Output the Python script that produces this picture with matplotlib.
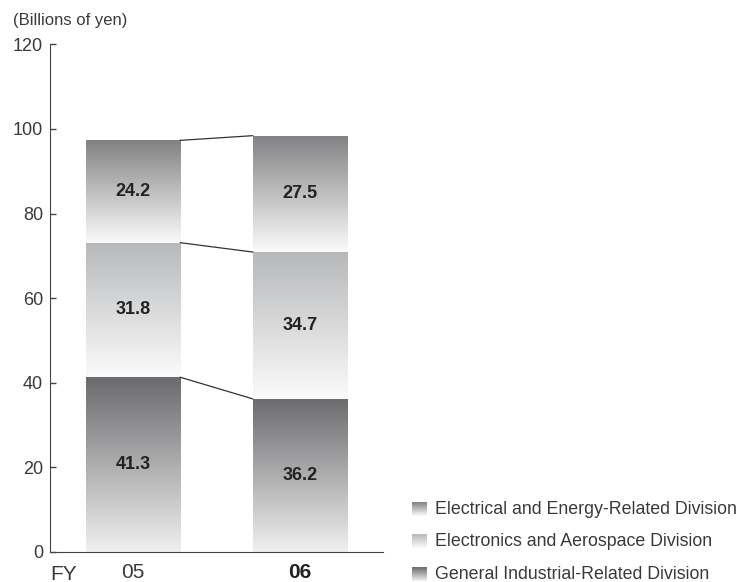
import matplotlib.pyplot as plt
import numpy as np
from matplotlib.colors import LinearSegmentedColormap

plt.rcParams['font.family'] = ['Liberation Sans', 'DejaVu Sans']

# data (billions of yen)
years = ["05", "06"]
general = [41.3, 36.2]
electronics = [31.8, 34.7]
electrical = [24.2, 27.5]

series = [
    ("General Industrial-Related Division", general, "#6b6b6e", "#f0f0f0"),
    ("Electronics and Aerospace Division", electronics, "#b7b8ba", "#fbfbfb"),
    ("Electrical and Energy-Related Division", electrical, "#828284", "#fbfbfb"),
]

text_color = "#222222"
light_text = "#3a3a3a"
axis_color = "#444444"


def gradient_fill(ax, patch, top, bottom):
    cmap = LinearSegmentedColormap.from_list("g", [bottom, top])
    x, y = patch.get_x(), patch.get_y()
    w, h = patch.get_width(), patch.get_height()
    grad = np.linspace(0, 1, 256).reshape(-1, 1)
    im = ax.imshow(grad, cmap=cmap, extent=[x, x + w, y, y + h], origin="lower",
                   aspect="auto", zorder=1, interpolation="bicubic")
    im.set_clip_path(patch)


fig = plt.figure(figsize=(7.4, 5.82), dpi=100)
ax = fig.add_axes([50 / 740, 30 / 582, 333 / 740, 507.7 / 582])

xpos = np.arange(len(years))
width = 0.565
bottom = np.zeros(len(years))
tops = []
for name, vals, ctop, cbot in series:
    bars = ax.bar(xpos, vals, width, bottom=bottom, facecolor="none", edgecolor="none", zorder=2)
    for b in bars:
        gradient_fill(ax, b, ctop, cbot)
    ax.bar_label(bars, labels=["%.1f" % v for v in vals], label_type="center",
                 fontsize=13, fontweight="bold", color=text_color, zorder=3)
    bottom = bottom + np.array(vals)
    tops.append(bottom.copy())

# connector lines between the bars
for t in tops:
    ax.plot([xpos[0] + width / 2, xpos[1] - width / 2], [t[0], t[1]],
            color="#333333", linewidth=0.9, zorder=2)

ax.set_xlim(-0.5, 1.5)
ax.set_ylim(0, 120)
ax.set_yticks(np.arange(0, 121, 20))
ax.set_xticks(xpos)
ax.set_xticklabels(years)
for lbl, w, c in zip(ax.get_xticklabels(), ["normal", "bold"], [light_text, text_color]):
    lbl.set_fontweight(w)
    lbl.set_fontsize(15)
    lbl.set_color(c)

ax.spines["top"].set_visible(False)
ax.spines["right"].set_visible(False)
ax.spines["left"].set_color(axis_color)
ax.spines["bottom"].set_color(axis_color)
ax.tick_params(axis="y", direction="in", length=4, width=1, color=axis_color,
               labelsize=13, labelcolor=light_text, pad=5)
ax.tick_params(axis="x", length=0, pad=8)

fig.text(50 / 740, 1 - 574 / 582, "FY", fontsize=15, color=light_text, va="center", ha="left")
fig.text(13 / 740, 1 - 20 / 582, "(Billions of yen)", fontsize=12, color=light_text, va="center", ha="left")

# legend drawn in pixel coordinates
lax = fig.add_axes([0, 0, 1, 1], zorder=5)
lax.axis("off")
rows = [509, 541, 574.5]
legend_items = [series[2], series[1], series[0]]
for (name, vals, ctop, cbot), yc in zip(legend_items, rows):
    cmap = LinearSegmentedColormap.from_list("l", [ctop, cbot])
    grad = np.linspace(0, 1, 64).reshape(-1, 1)
    lax.imshow(grad, cmap=cmap, extent=[412, 427, yc + 7, yc - 7], origin="upper", aspect="auto")
    lax.text(435, yc, name, fontsize=12.8, color=light_text, va="center", ha="left")
lax.set_xlim(0, 740)
lax.set_ylim(582, 0)

fig.savefig("out.png", dpi=100)
